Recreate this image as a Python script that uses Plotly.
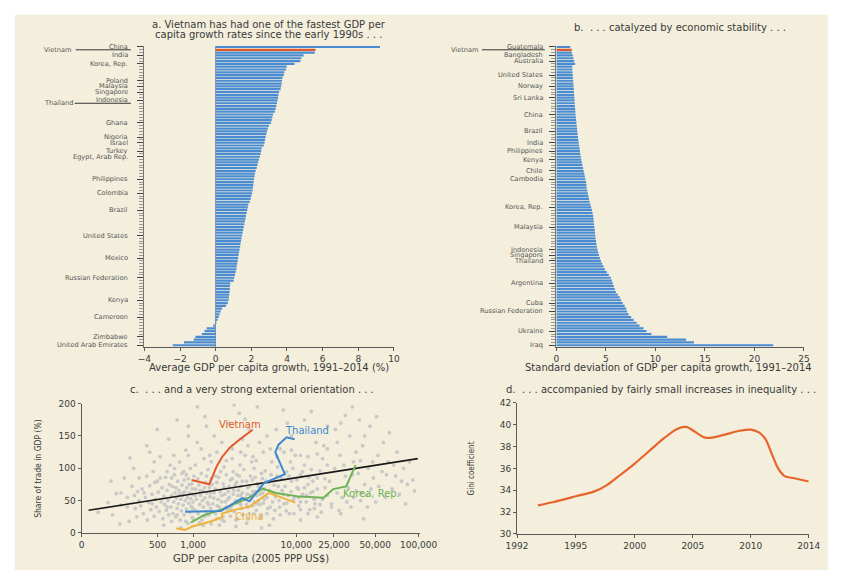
import plotly.graph_objects as go

W, H = 847, 575
BG = "#f3efdc"
BLUE = "#4a8bd2"
RED = "#e2582d"
TXT = "#3a3a3a"
AX = "#5a5a5a"
LAB = "#555555"
FONT = "DejaVu Sans, sans-serif"
NARROW = "Liberation Sans Narrow, DejaVu Sans Condensed, sans-serif"

# ---------------- Panel a: average GDP per capita growth 1991-2014 (%) -----------
growth = [
    9.22, 5.60, 5.56, 4.93, 4.80, 4.75, 4.42, 3.98, 3.95, 3.85,
    3.82, 3.74, 3.72, 3.70, 3.67, 3.64, 3.56, 3.52, 3.50, 3.47,
    3.44, 3.40, 3.36, 3.32, 3.22, 3.18, 3.14, 3.10, 2.99, 2.92,
    2.88, 2.84, 2.80, 2.77, 2.74, 2.70, 2.58, 2.55, 2.52, 2.48,
    2.42, 2.38, 2.34, 2.30, 2.24, 2.20, 2.18, 2.15, 2.13, 2.11,
    2.09, 2.07, 2.04, 2.00, 1.96, 1.92, 1.83, 1.80, 1.77, 1.74,
    1.70, 1.67, 1.64, 1.61, 1.57, 1.54, 1.51, 1.48, 1.45, 1.42,
    1.39, 1.37, 1.34, 1.31, 1.28, 1.26, 1.23, 1.21, 1.18, 1.16,
    1.12, 1.08, 1.04, 1.01, 0.82, 0.80, 0.79, 0.78, 0.76, 0.74,
    0.72, 0.68, 0.58, 0.36, 0.28, 0.22, 0.16, 0.10, 0.04, -0.14,
    -0.51, -0.63, -0.78, -1.14, -1.23, -1.78, -2.41,
]
growth_label_idx = [0, 3, 6, 12, 14, 16, 19, 27, 32, 34, 37, 39, 47, 52, 58, 67, 75, 82, 90, 96, 103, 106]
growth_label_txt = ["China", "India", "Korea, Rep.", "Poland", "Malaysia", "Singapore", "Indonesia",
                    "Ghana", "Nigeria", "Israel", "Turkey", "Egypt, Arab Rep.", "Philippines", "Colombia",
                    "Brazil", "United States", "Mexico", "Russian Federation", "Kenya", "Cameroon",
                    "Zimbabwe", "United Arab Emirates"]
growth_vietnam_idx = 1
growth_thailand_idx = 20

# ---------------- Panel b: std. dev. of GDP per capita growth -------------------
sd = [
    1.40, 1.56, 1.56, 1.66, 1.73, 1.80, 1.90, 1.60, 1.62, 1.63,
    1.65, 1.67, 1.70, 1.72, 1.74, 1.76, 1.78, 1.80, 1.82, 1.84,
    1.86, 1.88, 1.90, 1.92, 1.94, 1.97, 2.00, 2.03, 2.06, 2.09,
    2.12, 2.15, 2.18, 2.22, 2.26, 2.30, 2.34, 2.38, 2.42, 2.47,
    2.52, 2.57, 2.62, 2.70, 2.76, 2.82, 2.88, 2.94, 3.00, 3.03,
    3.06, 3.12, 3.18, 3.24, 3.30, 3.36, 3.44, 3.52, 3.60, 3.66,
    3.72, 3.75, 3.78, 3.81, 3.84, 3.87, 3.90, 3.93, 3.96, 4.00,
    4.05, 4.10, 4.15, 4.22, 4.30, 4.40, 4.50, 4.62, 4.76, 4.90,
    5.10, 5.30, 5.50, 5.60, 5.70, 5.80, 5.90, 6.00, 6.20, 6.40,
    6.55, 6.70, 6.90, 7.05, 7.15, 7.30, 7.55, 7.80, 8.10, 8.40,
    8.80, 9.10, 9.60, 11.2, 13.1, 13.9, 21.9,
]
sd_label_idx = [0, 3, 5, 10, 14, 18, 24, 30, 34, 37, 40, 44, 47, 57, 64, 72, 74, 76, 84, 91, 94, 101, 106]
sd_label_txt = ["Guatemala", "Bangladesh", "Australia", "United States", "Norway", "Sri Lanka", "China",
                "Brazil", "India", "Philippines", "Kenya", "Chile", "Cambodia", "Korea, Rep.", "Malaysia",
                "Indonesia", "Singapore", "Thailand", "Argentina", "Cuba", "Russian Federation",
                "Ukraine", "Iraq"]
sd_vietnam_idx = 1

# ---------------- Panel c: trade share vs GDP per capita -------------------------
c_tick_text = ["0", "500", "1,000", "10,000", "25,000", "50,000", "100,000"]
c_tick_pos_log = [1.919, 2.657, 3.0, 4.0, 4.366, 4.765, 5.187]

cloud_points = [
    (120, 32), (150, 47), (165, 28), (180, 61), (200, 43), (215, 85), (230, 55), (240, 18), (255, 72),
    (265, 100), (275, 38), (290, 64), (300, 50), (285, 25), (245, 116), (160, 80), (195, 14),
    (310, 42), (320, 68), (330, 30), (345, 55), (355, 88), (360, 20), (370, 47), (380, 73), (390, 36),
    (400, 60), (410, 95), (420, 26), (430, 52), (440, 40), (450, 80), (460, 63), (470, 33), (480, 118),
    (490, 48), (500, 70), (510, 22), (520, 57), (530, 44), (540, 86), (550, 35), (560, 66), (570, 50),
    (580, 28), (590, 75), (600, 105), (355, 135), (450, 160), (520, 12), (580, 145), (335, 62), (425, 78),
    (610, 40), (620, 58), (630, 72), (640, 30), (650, 48), (660, 90), (670, 62), (680, 25), (690, 54),
    (700, 38), (710, 80), (720, 45), (730, 66), (740, 110), (750, 20), (760, 52), (770, 34), (780, 74),
    (790, 58), (800, 43), (810, 95), (820, 28), (830, 64), (840, 50), (850, 128), (860, 37), (870, 70),
    (880, 55), (890, 15), (900, 84), (910, 46), (920, 62), (930, 32), (940, 100), (950, 53), (960, 41),
    (970, 76), (980, 24), (990, 60), (1000, 48), (1020, 88), (1040, 35), (1060, 68), (1080, 52),
    (1100, 140), (1120, 30), (1140, 74), (1160, 44), (1180, 58), (1200, 92), (1220, 20), (1240, 65),
    (1260, 40), (1280, 115), (1300, 54), (1320, 78), (1340, 33), (1360, 62), (1380, 47), (1400, 98),
    (1420, 28), (1440, 70), (1460, 56), (1480, 38), (1500, 84), (700, 175), (900, 150), (1100, 195),
    (760, 8), (1350, 165), (1250, 12), (650, 120), (820, 82), (1050, 105), (1450, 120), (980, 68),
    (1550, 45), (1600, 62), (1650, 30), (1700, 78), (1750, 52), (1800, 40), (1850, 95), (1900, 58),
    (1950, 25), (2000, 70), (2050, 48), (2100, 112), (2150, 36), (2200, 64), (2250, 55), (2300, 82),
    (2350, 42), (2400, 130), (2450, 60), (2500, 33), (2550, 74), (2600, 50), (2650, 90), (2700, 22),
    (2750, 66), (2800, 46), (2850, 105), (2900, 58), (2950, 38), (3000, 80), (3100, 52), (3200, 120),
    (3300, 44), (3400, 70), (3500, 30), (3600, 88), (3700, 56), (3800, 42), (3900, 100), (4000, 64),
    (4100, 35), (4200, 76), (4300, 50), (4400, 140), (4500, 60), (4600, 28), (4700, 84), (4800, 46),
    (4900, 68), (5000, 96), (1600, 150), (2200, 170), (2800, 185), (3500, 160), (4200, 195), (1800, 12),
    (2600, 10), (3300, 15), (4600, 8), (1700, 125), (3000, 145), (2000, 102), (3800, 118),
    (1650, 88), (2100, 40), (2450, 95), (2900, 72), (3350, 60), (3750, 82), (4150, 45), (1900, 20),
    (5200, 55), (5400, 78), (5600, 40), (5800, 110), (6000, 62), (6200, 35), (6500, 88), (6800, 50),
    (7000, 130), (7300, 66), (7600, 45), (8000, 95), (8300, 58), (8600, 30), (9000, 80), (9400, 52),
    (9800, 120), (10200, 70), (10600, 42), (11000, 90), (11500, 60), (12000, 105), (12500, 48),
    (13000, 75), (13500, 36), (14000, 98), (14500, 64), (15000, 52), (16000, 85), (17000, 44),
    (18000, 115), (19000, 70), (20000, 58), (6400, 160), (9000, 150), (12000, 175), (15500, 140),
    (7500, 190), (11000, 20), (16000, 25), (18500, 135), (5500, 12), (6700, 72), (8800, 110), (10500, 55),
    (21000, 80), (22000, 45), (23500, 100), (25000, 62), (26500, 120), (28000, 55), (30000, 88),
    (32000, 70), (34000, 40), (36000, 110), (38000, 65), (40000, 92), (42000, 50), (44000, 135),
    (46000, 75), (48000, 58), (50000, 100), (53000, 68), (56000, 85), (59000, 48), (24000, 160),
    (33000, 150), (41000, 175), (52000, 165), (27000, 30), (45000, 22), (38000, 125), (30000, 182),
    (63000, 72), (68000, 95), (73000, 55), (78000, 110), (85000, 68), (92000, 88), (100000, 60),
    (110000, 100), (120000, 75), (135000, 82), (70000, 140), (95000, 125), (115000, 45), (80000, 155),
    (560, 95), (620, 85), (680, 70), (740, 60), (800, 62), (860, 90), (920, 75), (990, 38), (1050, 58),
    (1110, 84), (1170, 66), (1230, 50), (1290, 70), (1350, 88), (1410, 44), (1470, 62), (1530, 75),
    (1590, 54), (1650, 68), (1710, 42), (1770, 86), (1830, 64), (1890, 48), (1960, 76), (2030, 60),
    (2100, 90), (2170, 52), (2240, 72), (2320, 38), (2400, 84), (2480, 66), (2560, 48), (2640, 78),
    (2720, 58), (2810, 88), (2900, 44), (3000, 62), (3100, 98), (3200, 54), (3300, 80), (3400, 40),
    (3500, 72), (3600, 58), (3700, 110), (3800, 64), (3900, 48), (4000, 86), (4150, 58), (4300, 72),
    (4450, 44), (4600, 92), (4750, 62), (4900, 52), (5100, 80), (5300, 38), (5500, 66), (5700, 90),
    (5900, 48), (6100, 74), (6300, 56), (6600, 102), (6900, 40), (7200, 84), (7500, 60), (7800, 72),
    (8100, 46), (8500, 88), (8900, 64), (9300, 100), (9700, 56), (10100, 82), (10500, 68), (11000, 48),
    (11500, 95), (12000, 70), (12600, 58), (13200, 86), (13800, 62), (14500, 80), (15200, 45),
    (16000, 68), (17000, 96), (18000, 52), (19000, 84), (20000, 105), (700, 28), (850, 18), (1000, 22),
    (1150, 16), (1300, 26), (1500, 14), (1700, 22), (2000, 18), (2300, 26), (2600, 20), (3000, 28),
    (3400, 22), (3900, 30), (4500, 24), (5200, 30), (6000, 22), (7000, 28), (8000, 34), (9500, 30),
    (11000, 36), (13000, 30), (15000, 38), (17500, 32), (22000, 40), (26000, 35), (31000, 48),
    (36000, 55), (43000, 62), (49000, 40), (55000, 110), (62000, 120), (75000, 90), (88000, 105),
    (105000, 80), (125000, 110), (140000, 65), (900, 120), (1200, 130), (1500, 110), (1900, 140),
    (2400, 115), (2900, 125), (3400, 135), (4100, 112), (4800, 125), (5600, 130), (6500, 118),
    (7600, 125), (9000, 128), (11000, 120), (13000, 118), (16000, 122), (20000, 130), (25000, 140),
    (29000, 105), (35000, 90), (42000, 112), (660, 100), (780, 92), (560, 40), (620, 18), (480, 85),
    (400, 45), (300, 85), (270, 58), (420, 110), (380, 125), (200, 62), (230, 40), (1300, 180),
    (2500, 198), (3200, 176), (5200, 150), (8200, 170), (14000, 188), (20000, 165), (27000, 170),
    (35000, 195), (46000, 150), (60000, 180), (900, 165),
]

fit_gdp = [97, 150700]
fit_trade = [35, 115]

vietnam_gdp = [966, 1435, 1693, 1910, 2290, 2844, 3784]
vietnam_trade = [82, 75.4, 103, 117.5, 132.7, 145, 159.6]
thailand_gdp = [836, 1857, 2985, 3524, 4873, 7762, 6262, 6735, 8054, 9640]
thailand_trade = [32.8, 33.9, 54, 49, 77, 91, 125, 136.5, 148, 145]
korea_gdp = [950, 1287, 1897, 3469, 4700, 6350, 10670, 18400, 22850, 30530, 37580]
korea_trade = [16, 27.8, 36.5, 54.4, 68.5, 61.7, 56.2, 54.4, 67.8, 71.9, 104.9]
china_gdp = [688, 836, 984, 1435, 1910, 1910, 2640, 3524, 5430, 9800]
china_trade = [7.3, 4.7, 9.9, 16.9, 24.2, 30, 36.5, 40.7, 62, 47]

# ---------------- Panel d: Gini coefficient --------------------------------------
d_tick_text = ["1992", "1995", "2000", "2005", "2010", "2014"]
d_tick_pos = [1992, 1996.43, 2000.88, 2005.26, 2009.63, 2014]
gini_year = [1993.58, 1994.68, 1996.43, 1997.84, 1998.81, 1999.78, 2000.88, 2001.97, 2003.07,
             2004.03, 2004.76, 2005.25, 2006.11, 2006.59, 2007.81, 2008.78, 2009.63, 2010.24,
             2010.73, 2011.21, 2011.69, 2012.18, 2012.91, 2014.0]
gini = [32.61, 32.9, 33.45, 33.9, 34.5, 35.4, 36.45, 37.6, 38.75, 39.6, 39.8, 39.5, 38.85, 38.8,
        39.15, 39.45, 39.55, 39.3, 38.7, 37.35, 36.0, 35.3, 35.1, 34.8]


def fx(p):
    return p / W


def fy(p):
    return 1 - p / H


fig = go.Figure()

n_a = len(growth)
fig.add_trace(go.Bar(
    x=growth, y=list(range(n_a)), orientation="h", width=0.78,
    marker=dict(color=[RED if i == growth_vietnam_idx else BLUE for i in range(n_a)], line_width=0),
    xaxis="x", yaxis="y", hoverinfo="x"))

n_b = len(sd)
fig.add_trace(go.Bar(
    x=sd, y=list(range(n_b)), orientation="h", width=0.78,
    marker=dict(color=[RED if i == sd_vietnam_idx else BLUE for i in range(n_b)], line_width=0),
    xaxis="x2", yaxis="y2", hoverinfo="x"))

fig.add_trace(go.Scatter(
    x=[p[0] for p in cloud_points], y=[p[1] for p in cloud_points], mode="markers",
    marker=dict(size=3.8, color="#c9c9c9"), xaxis="x3", yaxis="y3"))
fig.add_trace(go.Scatter(x=fit_gdp, y=fit_trade, mode="lines", line=dict(color="#1a1a1a", width=1.6),
                         xaxis="x3", yaxis="y3"))
for gx, gy, col in [(korea_gdp, korea_trade, "#6db254"), (china_gdp, china_trade, "#f0b23a"),
                    (thailand_gdp, thailand_trade, "#3f87d4"), (vietnam_gdp, vietnam_trade, "#e2582d")]:
    fig.add_trace(go.Scatter(x=gx, y=gy, mode="lines", line=dict(color=col, width=2),
                             xaxis="x3", yaxis="y3"))

fig.add_trace(go.Scatter(x=gini_year, y=gini, mode="lines",
                         line=dict(color="#e8642c", width=2.2, shape="spline", smoothing=0.8),
                         xaxis="x4", yaxis="y4"))

tickfont = dict(family=FONT, size=9, color=TXT)

common_x = dict(showline=True, linecolor=AX, linewidth=1, ticks="outside", ticklen=3,
                tickcolor=AX, showgrid=False, zeroline=False, tickfont=tickfont, fixedrange=True)

y_bar_dom = [fy(348), fy(41.3)]
y_bar_common = dict(range=[106.6, -0.5], domain=y_bar_dom, showline=True, linecolor="#777777",
                    linewidth=1, ticks="outside", ticklen=6, tickcolor="#444444", showgrid=False,
                    zeroline=False, showticklabels=False, fixedrange=True,
                    minor=dict(tickmode="linear", tick0=0, dtick=1, ticks="outside", ticklen=4,
                               tickcolor="#999999"))

fig.update_layout(
    width=W, height=H, margin=dict(l=0, r=0, t=0, b=0),
    paper_bgcolor="white", plot_bgcolor="rgba(0,0,0,0)", showlegend=False,
    font=dict(family=FONT, color=TXT, size=9.5),
    xaxis=dict(domain=[fx(138), fx(396)], range=[-4, 10], anchor="y",
               tickvals=[-4, -2, 0, 2, 4, 6, 8, 10],
               ticktext=["\u22124", "\u22122", "0", "2", "4", "6", "8", "10"], **common_x),
    yaxis=dict(anchor="x", tickvals=growth_label_idx, **y_bar_common),
    xaxis2=dict(domain=[fx(564), fx(820)], range=[0, 25], anchor="y2",
                tickvals=[0, 5, 10, 15, 20, 25], **common_x),
    yaxis2=dict(anchor="x2", tickvals=sd_label_idx, **y_bar_common),
    xaxis3=dict(domain=[fx(73), fx(423)], type="log", range=[1.919, 5.2], anchor="y3",
                tickvals=[10 ** v for v in c_tick_pos_log], ticktext=c_tick_text, **common_x),
    yaxis3=dict(domain=[fy(537.3), fy(405.7)], range=[0, 200], anchor="x3",
                tickvals=[0, 50, 100, 150, 200], **common_x),
    xaxis4=dict(domain=[fx(523.3), fx(825)], range=[1992, 2014], anchor="y4",
                tickvals=d_tick_pos, ticktext=d_tick_text, **common_x),
    yaxis4=dict(domain=[fy(538.3), fy(405)], range=[30, 42], anchor="x4",
                tickvals=[30, 32, 34, 36, 38, 40, 42], **common_x),
)
fig.update_xaxes(selector=dict(anchor="y"), zeroline=True, zerolinecolor="#9a9a9a", zerolinewidth=1)

shapes = [
    dict(type="rect", xref="paper", yref="paper", x0=fx(4), x1=fx(845), y0=0, y1=fy(10),
         fillcolor=BG, line_width=0, layer="below"),
    dict(type="line", xref="paper", yref="y", x0=fx(67), x1=fx(124),
         y0=growth_vietnam_idx, y1=growth_vietnam_idx, line=dict(color="#333333", width=1)),
    dict(type="line", xref="paper", yref="y", x0=fx(66), x1=fx(124),
         y0=growth_thailand_idx, y1=growth_thailand_idx, line=dict(color="#333333", width=1)),
    dict(type="line", xref="paper", yref="y2", x0=fx(487), x1=fx(552),
         y0=sd_vietnam_idx, y1=sd_vietnam_idx, line=dict(color="#333333", width=1)),
]
fig.update_layout(shapes=shapes)


def ann(text, x, y, size=10, color=TXT, xanchor="center", angle=0, family=FONT, yref=None, yval=None):
    d = dict(text=text, x=fx(x), xref="paper", showarrow=False, xanchor=xanchor, yanchor="middle",
             font=dict(family=family, size=size, color=color), textangle=angle, borderpad=0)
    if yref:
        d.update(yref=yref, y=yval)
    else:
        d.update(yref="paper", y=fy(y))
    return d


annotations = [
    ann("a. Vietnam has had one of the fastest GDP per", 266.7, 19.5, size=10),
    ann("capita growth rates since the early 1990s . . .", 266.7, 30.5, size=10),
    ann("b.  . . . catalyzed by economic stability . . .", 692, 22.5, size=10),
    ann("c.  . . . and a very strong external orientation . . .", 249, 391.5, size=10),
    ann("d.  . . . accompanied by fairly small increases in inequality . . .", 672, 391.5, size=10),
    ann("Average GDP per capita growth, 1991\u20132014 (%)", 266.7, 369, size=10),
    ann("Standard deviation of GDP per capita growth, 1991\u20132014", 680, 369, size=10),
    ann("GDP per capita (2005 PPP US$)", 248, 563, size=10),
    ann("Share of trade in GDP (%)", 28.3, 471.7, size=8.5, angle=-90, family=NARROW),
    ann("Gini coefficient", 476.7, 471.7, size=8, angle=-90, family=NARROW),
    ann("Vietnam", 63, 0, size=6.6, color=LAB, xanchor="right", yref="y", yval=growth_vietnam_idx),
    ann("Thailand", 65, 0, size=6.6, color=LAB, xanchor="right", yref="y", yval=growth_thailand_idx),
    ann("Vietnam", 484, 0, size=6.6, color=LAB, xanchor="right", yref="y2", yval=sd_vietnam_idx),
    ann("Vietnam", 236.7, 427, size=10, color="#e2582d"),
    ann("Thailand", 305.7, 432.7, size=10, color="#3f87d4"),
    ann("Korea, Rep.", 373.3, 497.3, size=10, color="#6db254"),
    ann("China", 246.7, 520.7, size=10, color="#f0b23a"),
]
for i, t in zip(growth_label_idx, growth_label_txt):
    annotations.append(ann(t, 122, 0, size=6.6, color=LAB, xanchor="right", yref="y", yval=i))
for i, t in zip(sd_label_idx, sd_label_txt):
    annotations.append(ann(t, 551, 0, size=6.6, color=LAB, xanchor="right", yref="y2", yval=i))
fig.update_layout(annotations=annotations)

fig.write_html("out.html", config={"displayModeBar": False},
               post_script="document.body.style.margin='0';document.body.style.padding='0';")
